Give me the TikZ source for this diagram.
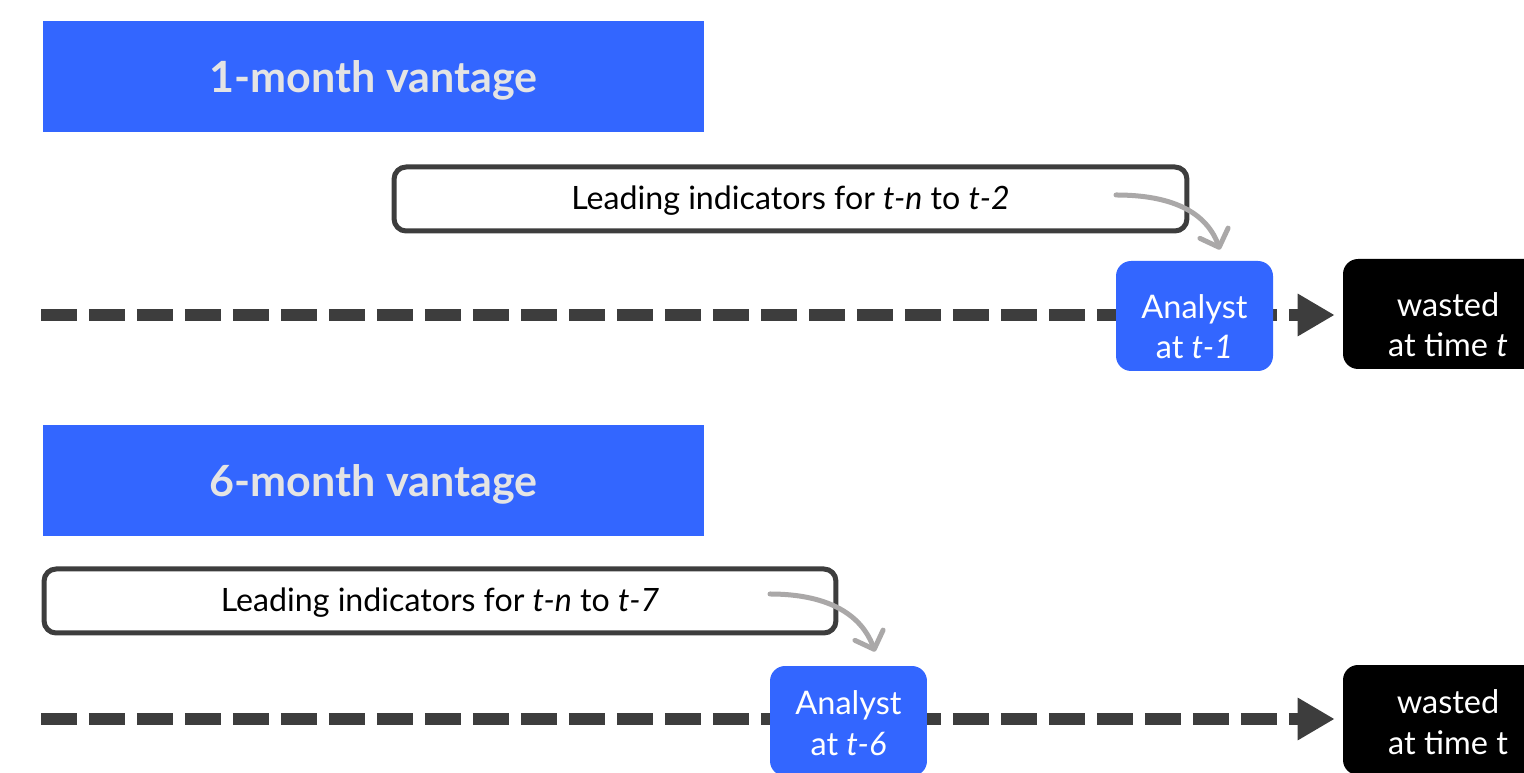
\documentclass[tikz,border=0pt]{standalone}
\usepackage{fontspec}
\setmainfont{Lato}
\usepackage{tikz}
\usetikzlibrary{arrows.meta}
\definecolor{vblue}{HTML}{3366FF}
\definecolor{dgray}{HTML}{3D3D3D}
\definecolor{lgray}{HTML}{AAA8A8}
\definecolor{ttext}{HTML}{E4E4E4}
\tikzset{
  title/.style={fill=vblue, text=ttext, font=\fontsize{24.5}{29}\selectfont\bfseries,
    text height=19pt, text depth=1pt,
    minimum width=13.22cm, minimum height=2.22cm},
  lead/.style={draw=dgray, line width=0.1cm, rounded corners=0.24cm, fill=white,
    text height=13pt, text depth=0.5pt,
    minimum height=1.28cm, font=\fontsize{18.3}{22}\selectfont},
  analyst/.style={fill=vblue, text=white, rounded corners=0.3cm, align=center,
    text height=50pt, text depth=1.2pt,
    minimum width=3.14cm, minimum height=2.2cm, font=\fontsize{18.5}{23.2}\selectfont},
  wasted/.style={fill=black, text=white, rounded corners=0.3cm, align=center,
    text height=50pt, text depth=1.2pt,
    minimum width=4.2cm, minimum height=2.2cm, font=\fontsize{18.5}{23.2}\selectfont},
  timeline/.style={dgray, line width=0.24cm, dash pattern=on 0.72cm off 0.24cm,
    shorten >=0.16cm, -{Triangle[length=0.74cm,width=0.8cm]}},
  feed/.style={lgray, line width=0.1cm, line cap=round,
    -{Straight Barb[length=0.3cm,width=0.6cm,round]}}
}

\begin{document}
\begin{tikzpicture}[x=0.02cm, y=0.02cm]
	\useasboundingbox (0,0) rectangle (1524,773);
	% 1-month vantage
	\node[title] (title1) at (373.5,696.5) {1-month vantage};
	\node[lead, minimum width=15.86cm] (lead1) at (790.5,574) {Leading indicators for \textit{t-n} to \textit{t-2}};
	\node[wasted] (wasted1) at (1448,459) {wasted\\at time \textit{t}};
	\coordinate (t1start) at (41,458);
	\draw[timeline] (t1start) -- (t1start -| wasted1.west);
	\node[analyst] (analyst1) at (1194.5,457) {Analyst\\at \textit{t-1}};
	\coordinate (f1) at (1116,578);
	\draw[feed] (f1) to[out=0, in=110] ([xshift=0.51cm, yshift=0.22cm]analyst1.north);
	%
	% 6-month vantage
	\node[title] (title2) at (373.5,292.5) {6-month vantage};
	\node[lead, minimum width=15.84cm] (lead2) at (440,172) {Leading indicators for \textit{t-n} to \textit{t-7}};
	\node[wasted, text height=40pt] (wasted2) at (1448,53) {wasted\\at time t};
	\coordinate (t2start) at (41,54);
	\draw[timeline] (t2start) -- (t2start -| wasted2.west);
	\node[analyst, text height=40pt] (analyst2) at (848.5,52) {Analyst\\at \textit{t-6}};
	\coordinate (f2) at (770,179);
	\draw[feed] (f2) to[out=0, in=110] ([xshift=0.53cm, yshift=0.28cm]analyst2.north);
\end{tikzpicture}
\end{document}
